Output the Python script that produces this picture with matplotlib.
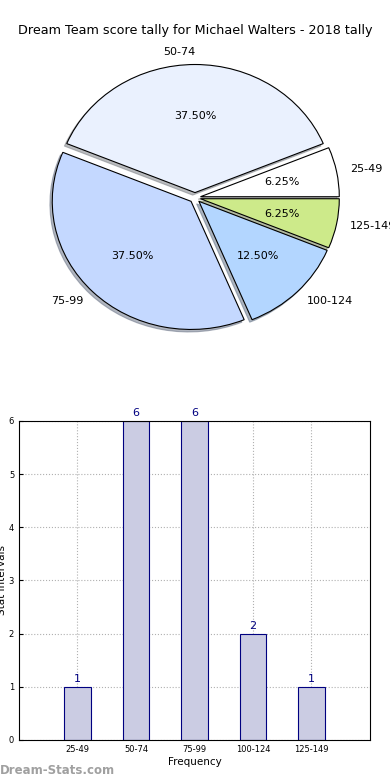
import matplotlib.pyplot as plt

# data
labels = ['25-49', '50-74', '75-99', '100-124', '125-149']
counts = [1, 6, 6, 2, 1]
pie_colors = ['#ffffff', '#eaf1fe', '#c4d8ff', '#b3d6ff', '#cdea8a']

fig = plt.figure(figsize=(3.9, 7.8), dpi=100)
fig.text(0.5, 0.961, 'Dream Team score tally for Michael Walters - 2018 tally',
         ha='center', va='center', fontsize=9.2)

# pie (old style, not forced to equal aspect)
ax1 = fig.add_axes([0.023, 0.533, 0.954, 0.427])
wedges, texts, autotexts = ax1.pie(counts, labels=labels, colors=pie_colors,
                                   explode=[0.04] * len(counts), startangle=0,
                                   autopct='%.2f%%', pctdistance=0.6,
                                   labeldistance=1.1,
                                   shadow={'ox': -0.012, 'oy': -0.014, 'shade': 0.5},
                                   wedgeprops={'edgecolor': 'black', 'linewidth': 0.8},
                                   textprops={'fontsize': 8})
ax1.set_aspect('auto')
ax1.set_xlim(-1.34, 1.34)
ax1.set_ylim(-1.3, 1.3)

# bar chart
ax2 = fig.add_axes([0.0487, 0.0513, 0.9, 0.409])
x = list(range(1, len(counts) + 1))
ax2.bar(x, counts, width=0.45, color='#cbcce3', edgecolor='#000080', linewidth=0.8, zorder=2)
for xi, c in zip(x, counts):
    ax2.text(xi, c + 0.05, str(c), ha='center', va='bottom', color='#000080', fontsize=8)
ax2.set_xlim(0, 6)
ax2.set_ylim(0, 6)
ax2.set_xticks(x)
ax2.set_xticklabels(labels)
ax2.set_yticks(range(0, 7))
ax2.tick_params(labelsize=6, direction='in', length=3)
ax2.grid(True, linestyle=':', color='#b0b0b0', linewidth=0.8, zorder=0)
ax2.set_axisbelow(True)
ax2.set_xlabel('Frequency', fontsize=7.5, labelpad=2)
ax2.set_ylabel('Stat Intervals', fontsize=7.5, labelpad=1)

fig.text(0.0, 0.012, 'Dream-Stats.com', color='#a0a0a0', fontsize=8.5,
         fontweight='bold', ha='left', va='center')

fig.savefig('out.png', dpi=100)
